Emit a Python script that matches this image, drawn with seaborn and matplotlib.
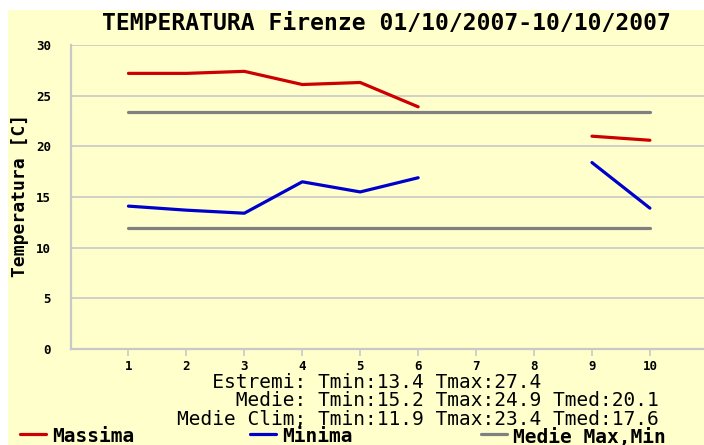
import numpy as np
import pandas as pd
import matplotlib
matplotlib.use('Agg')
import matplotlib.pyplot as plt
from matplotlib.lines import Line2D
from matplotlib.patches import Rectangle
import seaborn as sns

# Daily data, Firenze 01/10/2007 - 10/10/2007 (days 7 and 8 missing)
days = [1, 2, 3, 4, 5, 6, 7, 8, 9, 10]
t_max = [27.2, 27.2, 27.4, 26.1, 26.3, 23.9, np.nan, np.nan, 21.0, 20.6]
t_min = [14.1, 13.7, 13.4, 16.5, 15.5, 16.9, np.nan, np.nan, 18.4, 13.9]
clim_max = 23.4
clim_min = 11.9

title = 'TEMPERATURA Firenze 01/10/2007-10/10/2007'
stats_lines = ['Estremi: Tmin:13.4 Tmax:27.4',
               'Medie: Tmin:15.2 Tmax:24.9 Tmed:20.1',
               'Medie Clim; Tmin:11.9 Tmax:23.4 Tmed:17.6']
prefixes = ['Estremi: ', 'Medie: ', 'Medie Clim; ']

df = pd.DataFrame({'day': days, 'tmax': t_max, 'tmin': t_min})
# segment id so lines break where data is missing
df['seg_max'] = df['tmax'].isna().cumsum()
df['seg_min'] = df['tmin'].isna().cumsum()
clim = pd.DataFrame({'day': [days[0], days[-1]] * 2,
                     'val': [clim_max, clim_max, clim_min, clim_min],
                     'kind': ['max', 'max', 'min', 'min']})

sns.set_style('white')
plt.rcParams['font.family'] = ['DejaVu Sans Mono', 'DejaVu Sans']
plt.rcParams['text.color'] = 'black'
plt.rcParams['xtick.labelcolor'] = 'black'
plt.rcParams['ytick.labelcolor'] = 'black'

yellow = '#FFFFCC'
red = '#CC0000'
blue = '#0000CC'
gray = '#808080'
gridc = '#C8C8C8'

fig = plt.figure(figsize=(7.04, 4.45), dpi=100)
fig.patch.set_facecolor('white')
fig.patches.append(Rectangle((8 / 704, 0), 696 / 704, 435 / 445,
                             transform=fig.transFigure, facecolor=yellow,
                             edgecolor='none', zorder=-5))

ax = fig.add_axes([70.5 / 704, 96 / 445, (704 - 70.5) / 704, 304 / 445])
ax.set_facecolor(yellow)

sns.lineplot(data=clim, x='day', y='val', units='kind', estimator=None,
             color=gray, lw=2.3, ax=ax)
sns.lineplot(data=df.dropna(subset=['tmax']), x='day', y='tmax', units='seg_max',
             estimator=None, color=red, lw=2.3, ax=ax)
sns.lineplot(data=df.dropna(subset=['tmin']), x='day', y='tmin', units='seg_min',
             estimator=None, color=blue, lw=2.3, ax=ax)

ax.set_xlim(0, (704 - 70.5) / 57.94)
ax.set_ylim(0, 30)
ax.set_xticks(days)
ax.set_xticklabels([str(d) for d in days], fontsize=9, fontweight='bold')
ax.set_yticks(range(0, 31, 5))
ax.set_yticklabels([str(v) for v in range(0, 31, 5)], fontsize=9, fontweight='bold')
ax.tick_params(axis='x', length=5, width=1.2, color=gridc, pad=3, bottom=True,
               labelcolor='black')
ax.tick_params(axis='y', length=0, pad=14, labelcolor='black')
ax.yaxis.grid(True, color=gridc, lw=1.2)
ax.set_axisbelow(True)
for s in ['top', 'right']:
    ax.spines[s].set_visible(False)
for s in ['left', 'bottom']:
    ax.spines[s].set_color(gridc)
    ax.spines[s].set_linewidth(1.6)
ax.set_xlabel('')
ax.set_ylabel('')
fig.text(20 / 704, 1 - 195 / 445, 'Temperatura [C]', rotation=90, ha='center',
         va='center', fontsize=13, fontweight='bold', color='black')

fig.text(386 / 704, 1 - 23 / 445, title, ha='center', va='center',
         fontsize=16.6, fontweight='bold', color='black')

# statistics block, aligned on the colon column
for i, (line, pre) in enumerate(zip(stats_lines, prefixes)):
    padded = ' ' * (12 - len(pre)) + line
    fig.text(177 / 704, 1 - (383 + i * 18) / 445, padded, ha='left', va='center',
             fontsize=14, color='black')

# legend row
legend_items = [('Massima', red, 20), ('Minima', blue, 250), ('Medie Max,Min', gray, 481)]
for label, col, x0 in legend_items:
    yl = 1 - 434 / 445
    fig.lines.append(Line2D([x0 / 704, (x0 + 26) / 704], [yl, yl], color=col, lw=2.3,
                            transform=fig.transFigure))
    fig.text((x0 + 32) / 704, 1 - 437 / 445, label, ha='left', va='center',
             fontsize=14, fontweight='bold', color='black')

fig.savefig('out.png', dpi=100, facecolor=fig.get_facecolor())
